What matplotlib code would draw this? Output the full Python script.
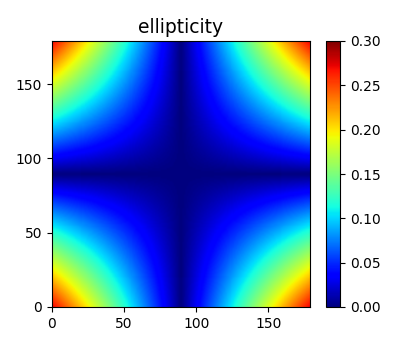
import matplotlib
matplotlib.use('Agg')
import matplotlib.pyplot as plt
import numpy as np

# angles (deg) along both axes
angles = np.arange(0, 180)
# values: peak at the corners, zero along the centre lines
peak = 0.27
centre = 89.5
power = 1.0

a = np.abs(angles - centre) / centre
prof = a ** power
ellip = peak * np.outer(prof, prof)

fig = plt.figure(figsize=(4.16, 3.45), dpi=100)
ax = fig.add_axes([52 / 416, 1 - 307 / 345, 258 / 416, 266 / 345])
cax = fig.add_axes([326 / 416, 1 - 307 / 345, 14 / 416, 266 / 345])

im = ax.imshow(ellip, origin='lower', cmap='jet', vmin=0, vmax=0.3,
               extent=[0, 179, 0, 179], aspect='auto', interpolation='bilinear')
ax.set_xticks([0, 50, 100, 150])
ax.set_yticks([0, 50, 100, 150])
ax.set_title('ellipticity', fontsize=13.5)

cb = fig.colorbar(im, cax=cax)
cb.set_ticks([0, 0.05, 0.1, 0.15, 0.2, 0.25, 0.3])
cb.ax.set_yticklabels(['0.00', '0.05', '0.10', '0.15', '0.20', '0.25', '0.30'])

fig.savefig('out.png', dpi=100)
